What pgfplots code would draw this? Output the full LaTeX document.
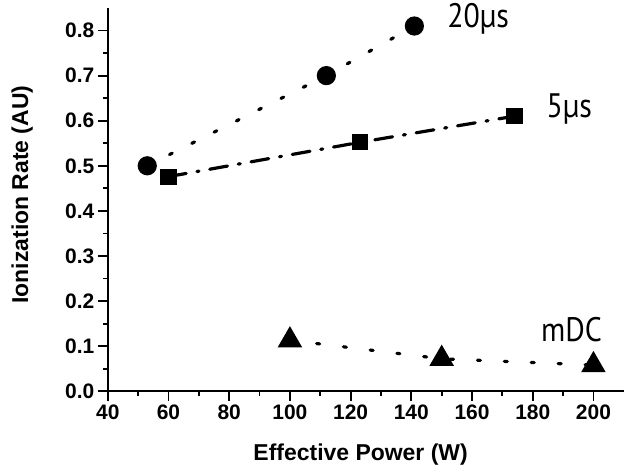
\documentclass[border=0pt]{standalone}
\usepackage{fontspec}
\setmainfont{Liberation Sans}
\newfontfamily\notefont{PT Sans}
\usepackage{pgfplots}
\pgfplotsset{compat=1.18}

\begin{document}
\begin{tikzpicture}
\begin{axis}[
    scale only axis,
    width=517pt, height=384pt,
    xmin=40, xmax=210,
    ymin=0, ymax=0.85,
    axis x line*=bottom,
    axis y line*=left,
    axis line style={line width=2.4pt},
    xtick={40,60,...,200},
    ytick={0,0.1,...,0.8},
    minor x tick num=1,
    minor y tick num=1,
    tick align=outside,
    major tick length=10pt,
    minor tick length=5pt,
    tick style={line width=1.8pt, black},
    xticklabel={\textbf{\pgfmathprintnumber[assume math mode=true]{\tick}}},
    yticklabel={\textbf{\pgfmathprintnumber[assume math mode=true,fixed,fixed zerofill,precision=1]{\tick}}},
    ticklabel style={font=\bfseries\fontsize{21}{21}\selectfont},
    xlabel={Effective Power (W)},
    ylabel={Ionization Rate (AU)},
    label style={font=\bfseries\fontsize{23}{23}\selectfont},
    xlabel style={at={(axis description cs:0.49,-0.164)}, anchor=center},
    ylabel style={at={(axis description cs:-0.166,0.513)}, anchor=center},
    clip=false,
]

% 20 us
\addplot[black, line width=3.2pt, line cap=round, dash pattern=on 3pt off 22pt,
    mark=*, mark size=8pt, mark options={solid}] coordinates {
    (53, 0.50)
    (112, 0.70)
    (141, 0.81)
};

% 5 us
\addplot[black, line width=3.2pt, line cap=round, dash pattern=on 18pt off 11pt on 2pt off 11pt,
    mark=square*, mark size=6.5pt, mark options={solid}] coordinates {
    (60, 0.476)
    (123, 0.552)
    (174, 0.61)
};

% mDC
\addplot[black, line width=3.2pt, line cap=round, dash pattern=on 3pt off 24pt,
    mark=triangle*, mark size=11pt, mark options={solid}] coordinates {
    (100, 0.113)
    (150, 0.072)
    (200, 0.058)
};

\node[font=\notefont\fontsize{34}{34}\selectfont, xscale=0.88] at (axis cs:162,0.825) {20µs};
\node[font=\notefont\fontsize{34}{34}\selectfont, xscale=0.88] at (axis cs:192,0.627) {5µs};
\node[font=\notefont\fontsize{34}{34}\selectfont, xscale=0.88] at (axis cs:192.8,0.137) {mDC};

% page margins as in the reference
\path (rel axis cs:0,0) ++(-108pt,-84pt);
\path (rel axis cs:1,1) ++(0,8pt);

\end{axis}
\end{tikzpicture}
\end{document}
